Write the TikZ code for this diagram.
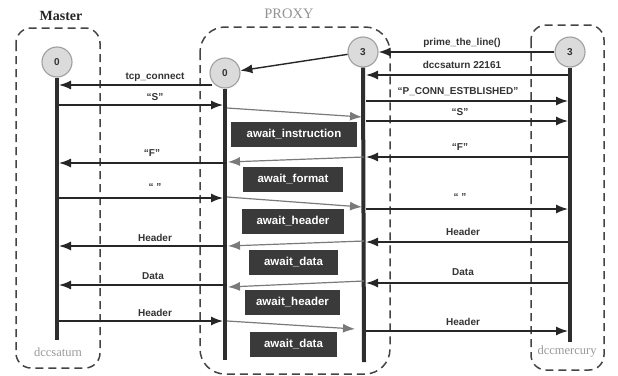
\documentclass[tikz,border=0pt]{standalone}
\usepackage{fontspec}
\setmainfont{Liberation Serif}
\newfontfamily\labfont{Liberation Sans}
\usetikzlibrary{arrows.meta}
\definecolor{lifeink}{HTML}{2E2E2E}
\definecolor{boxink}{HTML}{3A3A3A}
\definecolor{dashink}{HTML}{444444}
\definecolor{fwdink}{HTML}{7A7A7A}
\definecolor{txtink}{HTML}{333333}
\tikzset{
  group/.style={draw=dashink, line width=1.5pt, dash pattern=on 8pt off 5pt},
  state/.style={circle, draw=gray!75, fill=gray!28, line width=1.1pt, minimum size=30pt, inner sep=0pt,
    font=\labfont\bfseries\fontsize{10}{12}\selectfont, text=txtink},
  life/.style={draw=lifeink, line width=4pt},
  msg/.style={draw=black!85, line width=1.4pt, -{Latex[length=12pt,width=9pt]}},
  fwd/.style={draw=fwdink, line width=1.2pt, -{Latex[length=12pt,width=9pt]}},
  lbl/.style={font=\labfont\bfseries\fontsize{10}{12}\selectfont, text=txtink, inner sep=0pt},
  waitbox/.style={fill=boxink, text=white, font=\labfont\bfseries\fontsize{11.5}{13}\selectfont,
    inner sep=0pt, minimum height=25pt},
  title/.style={font=\fontsize{14.5}{16}\selectfont, inner sep=0pt},
  host/.style={font=\fontsize{12.5}{14}\selectfont, text=gray!80, inner sep=0pt}
}
\begin{document}
\begin{tikzpicture}[x=1pt, y=-1pt]
\useasboundingbox (0,0) rectangle (618,375);
\fill[white] (0,0) rectangle (618,375);

% group frames
\draw[group, rounded corners=15pt] (16,28) rectangle (100,368);
\draw[group, rounded corners=25pt] (200,27) rectangle (390,374);
\draw[group, rounded corners=15pt] (531,25) rectangle (604,370);

\node[title, font=\bfseries\fontsize{14}{16}\selectfont, text=black!85] (tMaster) at (61,16) {Master};
\node[title, text=gray!85] (tProxy) at (289,14) {PROXY};
\node[host] (hSat) at (58,352) {dccsaturn};
\node[host] (hMer) at (567,352) {dccmercury};

% states
\node[state] (m0) at (57,62) {0};
\node[state] (pl0) at (225,73) {0};
\node[state] (pr3) at (363,52) {3};
\node[state] (me3) at (570,52) {3};

% lifelines
\coordinate (mEnd) at (57,340);
\coordinate (plEnd) at (225,360);
\coordinate (prEnd) at (364,362);
\coordinate (meEnd) at (570,342);
\draw[life] (m0.south) -- (mEnd);
\draw[life] (pl0.south) -- (plEnd);
\draw[life] (pr3.south) -- (prEnd);
\draw[life] (me3.south) -- (meEnd);

% wait states
\node[waitbox, minimum width=126pt] (w1) at (294,134.5) {await\_instruction};
\node[waitbox, minimum width=100pt] (w2) at (293,179.5) {await\_format};
\node[waitbox, minimum width=102pt] (w3) at (293,221.5) {await\_header};
\node[waitbox, minimum width=89pt] (w4) at (293.5,262) {await\_data};
\node[waitbox, minimum width=95pt] (w5) at (292.5,302) {await\_header};
\node[waitbox, minimum width=87pt] (w6) at (293.5,344) {await\_data};

% message end points on the lifelines
\coordinate (mA) at (59,85);   \coordinate (plA) at (212,85);
\coordinate (mB) at (59,105);  \coordinate (plB) at (223,105);
\coordinate (mC) at (59,163);  \coordinate (plC) at (227,163);
\coordinate (mD) at (59,198);  \coordinate (plD) at (223,198);
\coordinate (mE) at (59,246);  \coordinate (plE) at (227,246);
\coordinate (mF) at (59,285);  \coordinate (plF) at (227,285);
\coordinate (mG) at (59,321);  \coordinate (plG) at (223,321);

\coordinate (prA) at (366,75);  \coordinate (meA) at (568,75);
\coordinate (prB) at (366,101); \coordinate (meB) at (568,101);
\coordinate (prC) at (366,121); \coordinate (meC) at (568,121);
\coordinate (prD) at (366,157); \coordinate (meD) at (568,157);
\coordinate (prE) at (366,209); \coordinate (meE) at (568,209);
\coordinate (prF) at (366,242); \coordinate (meF) at (568,242);
\coordinate (prG) at (366,283); \coordinate (meG) at (568,283);
\coordinate (prH) at (366,331); \coordinate (meH) at (568,331);

% set-up messages
\draw[msg] (me3) -- (pr3);
\draw[msg] (pr3) -- (pl0);
\node[lbl] (lPrime) at (462,43) {prime\_the\_line()};

% master <-> proxy
\draw[msg] (plA) -- (mA);
\node[lbl] (lTcp) at (155,77) {tcp\_connect};
\draw[msg] (mB) -- (plB);
\node[lbl] (lS1) at (155,97) {“S”};
\draw[msg] (plC) -- (mC);
\node[lbl] (lF1) at (152,153) {“F”};
\draw[msg] (mD) -- (plD);
\node[lbl] (lQ1) at (155,187) {“ ”};
\draw[msg] (plE) -- (mE);
\node[lbl] (lH1) at (155,238) {Header};
\draw[msg] (plF) -- (mF);
\node[lbl] (lD1) at (153,276) {Data};
\draw[msg] (mG) -- (plG);
\node[lbl] (lH2) at (155,313) {Header};

% proxy <-> dccmercury
\draw[msg] (meA) -- (prA);
\node[lbl] (lSat) at (462,65) {dccsaturn 22161};
\draw[msg] (prB) -- (meB);
\node[lbl] (lConn) at (458,92) {“P\_CONN\_ESTBLISHED”};
\draw[msg] (prC) -- (meC);
\node[lbl] (lS2) at (460,112) {“S”};
\draw[msg] (meD) -- (prD);
\node[lbl] (lF2) at (460,147) {“F”};
\draw[msg] (prE) -- (meE);
\node[lbl] (lQ2) at (460,197) {“ ”};
\draw[msg] (meF) -- (prF);
\node[lbl] (lH3) at (463,232) {Header};
\draw[msg] (meG) -- (prG);
\node[lbl] (lD2) at (463,272) {Data};
\draw[msg] (prH) -- (meH);
\node[lbl] (lH4) at (463,322) {Header};

% forwarding inside the proxy
\coordinate (f1a) at (227,108); \coordinate (f1b) at (362,117);
\coordinate (f2a) at (364,157); \coordinate (f2b) at (228,162);
\coordinate (f3a) at (227,197); \coordinate (f3b) at (362,207);
\coordinate (f4a) at (364,241); \coordinate (f4b) at (228,246);
\coordinate (f5a) at (364,281); \coordinate (f5b) at (228,287);
\coordinate (f6a) at (227,321); \coordinate (f6b) at (355,329);
\draw[fwd] (f1a) -- (f1b);
\draw[fwd] (f2a) -- (f2b);
\draw[fwd] (f3a) -- (f3b);
\draw[fwd] (f4a) -- (f4b);
\draw[fwd] (f5a) -- (f5b);
\draw[fwd] (f6a) -- (f6b);
\end{tikzpicture}
\end{document}
